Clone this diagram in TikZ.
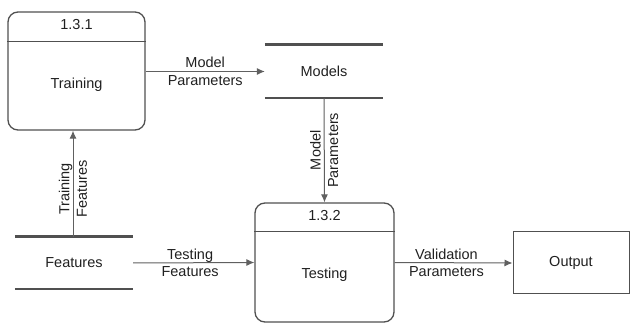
\documentclass[tikz,border=0pt]{standalone}
\usepackage{fontspec}
\setmainfont{Liberation Sans}
\usetikzlibrary{arrows.meta}
\definecolor{ln}{HTML}{606060}
\definecolor{bx}{HTML}{505050}
\definecolor{tx}{HTML}{202020}
\tikzset{
  proc/.style={draw=bx, line width=1.3pt, rounded corners=10pt, minimum width=#1, inner sep=0pt},
  store/.style={minimum width=118pt, minimum height=53pt, inner sep=0pt, text=tx, font=\fontsize{14.5}{18}\selectfont},
  storeline/.style={draw=bx, line width=2.6pt},
  flow/.style={draw=ln, line width=1pt, -{Latex[length=8pt,width=7pt]}},
  lbl/.style={text=tx, font=\fontsize{14.5}{17.5}\selectfont, align=center, inner sep=0pt},
  txt/.style={text=tx, font=\fontsize{14.5}{18}\selectfont},
  outbox/.style={draw=bx, line width=1pt, minimum width=116pt, minimum height=62pt, text=tx, font=\fontsize{14.5}{18}\selectfont}
}
\begin{document}
\begin{tikzpicture}[x=1pt,y=-1pt]
\useasboundingbox (0,0) rectangle (630,323);
% processes
\node[proc=137pt, minimum height=118pt] (tr) at (76.5,71) {};
\draw[draw=bx, line width=1.3pt] ([yshift=-30pt]tr.north west) -- ([yshift=-30pt]tr.north east);
\node[txt] (trid) at (76.5,25) {1.3.1};
\node[txt] (trname) at (76.5,85) {Training};

\node[proc=139pt, minimum height=119pt] (te) at (324.5,262.5) {};
\draw[draw=bx, line width=1.3pt] ([yshift=-29pt]te.north west) -- ([yshift=-29pt]te.north east);
\node[txt] (teid) at (324.5,216) {1.3.2};
\node[txt] (tename) at (324.5,275) {Testing};

% stores
\node[store] (mo) at (324,71.5) {Models};
\draw[storeline] (mo.north west) -- (mo.north east);
\draw[storeline] (mo.south west) -- (mo.south east);

\node[store, minimum height=52pt] (fe) at (74,263) {Features};
\draw[storeline] (fe.north west) -- (fe.north east);
\draw[storeline] (fe.south west) -- (fe.south east);

% output
\node[outbox] (out) at (571,263) {Output};

% flows
\draw[flow] (tr.east |- mo.west) -- (mo.west)
  node[lbl, midway] {Model\\Parameters};
\draw[flow] (mo.south) -- (te.north)
  node[lbl, midway, rotate=90] {Model\\Parameters};
\draw[flow] ([xshift=-1pt]fe.north) -- ([xshift=-1pt]fe.north |- tr.south)
  node[lbl, pos=0.45, rotate=90] {Training\\Features};
\draw[flow] (fe.east) -- (te.west)
  node[lbl, pos=0.47] {Testing\\Features};
\draw[flow] (te.east) -- (out.west)
  node[lbl, pos=0.44] {Validation\\Parameters};
\end{tikzpicture}
\end{document}
